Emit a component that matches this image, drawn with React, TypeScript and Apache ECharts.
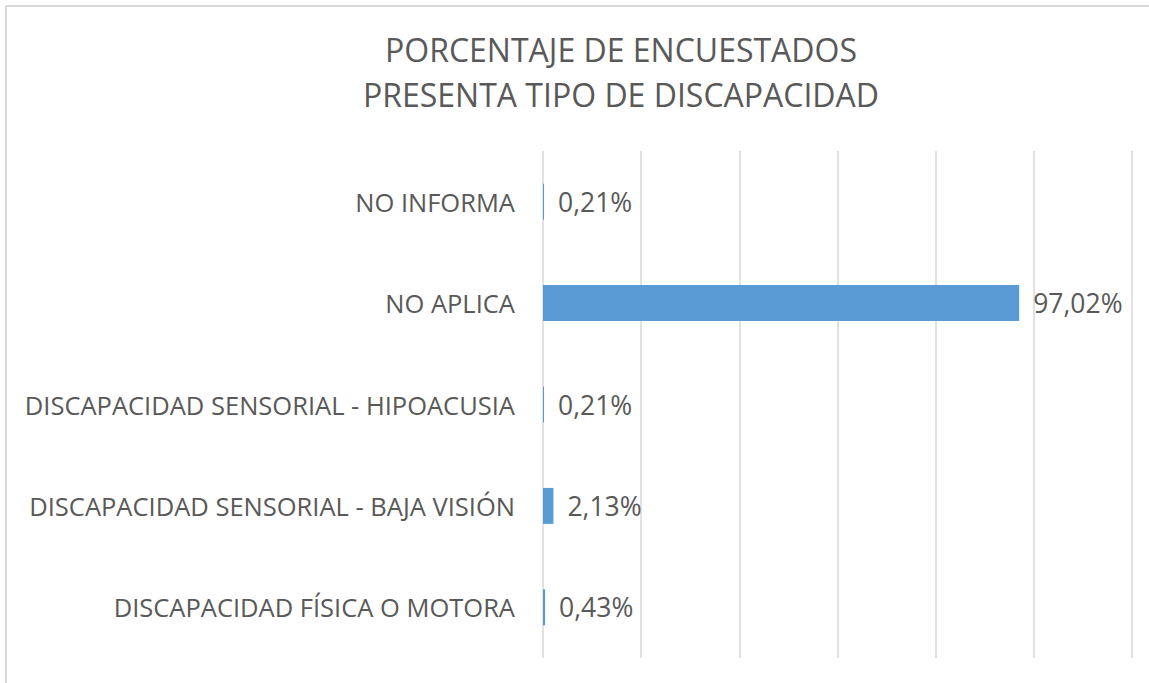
import React, { useEffect, useRef } from "react";
import * as echarts from "echarts";

const titleLines = ["PORCENTAJE DE ENCUESTADOS", "PRESENTA TIPO DE DISCAPACIDAD"];
const categories = [
  "DISCAPACIDAD FÍSICA O MOTORA",
  "DISCAPACIDAD SENSORIAL - BAJA VISIÓN",
  "DISCAPACIDAD SENSORIAL - HIPOACUSIA",
  "NO APLICA",
  "NO INFORMA",
];
const values = [0.43, 2.13, 0.21, 97.02, 0.21];
const axisMin = 0;
const axisMax = 120;
const axisInterval = 20;

const TEXT = "#595959";
const FONT = "'Open Sans', 'Noto Sans', sans-serif";

export default function App() {
  const ref = useRef<HTMLDivElement>(null);
  useEffect(() => {
    if (!ref.current) return;
    const chart = echarts.init(ref.current, undefined, { renderer: "svg" });
    chart.setOption({
      animation: false,
      backgroundColor: "#ffffff",
      title: {
        text: titleLines.join("\n"),
        left: 616,
        top: 22,
        textAlign: "center",
        textStyle: {
          color: TEXT,
          fontFamily: FONT,
          fontSize: 32,
          fontWeight: "normal",
          lineHeight: 45,
        },
      },
      graphic: [
        { type: "line", shape: { x1: 6, y1: 6, x2: 6, y2: 683 }, style: { stroke: "#d9d9d9", lineWidth: 2 } },
        { type: "line", shape: { x1: 6, y1: 6, x2: 1149, y2: 6 }, style: { stroke: "#d9d9d9", lineWidth: 2 } },
      ],
      grid: { left: 543, right: 17, top: 151, bottom: 25, containLabel: false },
      xAxis: {
        type: "value",
        min: axisMin,
        max: axisMax,
        interval: axisInterval,
        axisLabel: { show: false },
        axisLine: { show: false },
        axisTick: { show: false },
        splitLine: { show: true, lineStyle: { color: "#d9d9d9", width: 1.5 } },
      },
      yAxis: {
        type: "category",
        data: categories,
        axisLine: { show: false },
        axisTick: { show: false },
        axisLabel: {
          color: TEXT,
          fontFamily: FONT,
          fontSize: 25.5,
          margin: 28,
        },
      },
      series: [
        {
          type: "bar",
          data: values,
          barWidth: 36,
          itemStyle: { color: "#5B9BD5" },
          label: {
            show: true,
            position: "right",
            distance: 14,
            color: TEXT,
            fontFamily: FONT,
            fontSize: 26.5,
            formatter: (p: any) => p.value.toFixed(2).replace(".", ",") + "%",
          },
        },
      ],
    });
    return () => chart.dispose();
  }, []);
  return (
    <div
      ref={ref}
      style={{ position: "fixed", left: 0, top: 0, width: 1149, height: 683 }}
    />
  );
}
